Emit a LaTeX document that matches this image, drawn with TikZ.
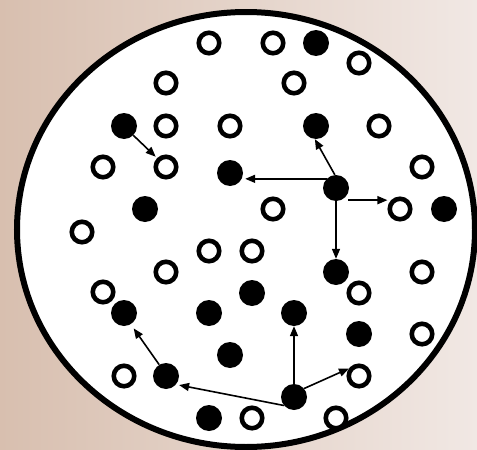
\documentclass[tikz,border=0pt]{standalone}
\usetikzlibrary{arrows.meta}
\definecolor{bgL}{RGB}{216,191,175}
\definecolor{bgR}{RGB}{241,232,228}
\begin{document}
\begin{tikzpicture}[x=1pt,y=-1pt,
  opendot/.style={circle,draw=black,line width=4.6pt,fill=white,minimum size=20.5pt,inner sep=0pt},
  fulldot/.style={circle,fill=black,minimum size=26pt,inner sep=0pt},
  flow/.style={line width=1.6pt,-{Triangle[length=10pt,width=8pt]}}]
\shade[left color=bgL,right color=bgR] (0,0) rectangle (477,450);
\useasboundingbox (0,0) rectangle (477,450);
\draw[line width=6pt,fill=white] (246,229.5) ellipse [x radius=229pt, y radius=217.5pt];
% open dots
\foreach \x/\y [count=\i] in {209/43, 273/43, 359/63, 166/83, 294/83, 166/126, 230/126, 379/126,
  103/167, 422/167, 273/209, 82/232, 209/251, 252/251, 166/272, 422/272, 103/292,
  359/293, 422/334, 124/376, 252/418, 336/418}
  \node[opendot] (o\i) at (\x,\y) {};
\node[opendot] (oA) at (166,167) {};
\node[opendot] (oB) at (400,209) {};
\node[opendot] (oC) at (359,376) {};
% filled dots
\foreach \x/\y [count=\i] in {316/43, 145/209, 444/209, 252/293, 209/313, 359/334, 230/355, 209/418}
  \node[fulldot] (f\i) at (\x,\y) {};
\node[fulldot] (fA) at (124,126) {};
\node[fulldot] (fB) at (316,126) {};
\node[fulldot] (fC) at (230,173) {};
\node[fulldot] (fD) at (336,188) {};
\node[fulldot] (fE) at (336,272) {};
\node[fulldot] (fF) at (124,313) {};
\node[fulldot] (fG) at (294,313) {};
\node[fulldot] (fH) at (166,376) {};
\node[fulldot] (fI) at (294,397) {};
% arrows
\draw[flow,shorten >=2pt] (fA.-45) -- (oA.135);
\draw[flow] (fD.95) -- (fB.-95);
\draw[flow,shorten >=2pt] (fD.136) -- (fD.136 -| fC.east);
\draw[flow,shorten <=7pt] (fD.-67) -- (fD.-67 -| oB.west);
\draw[flow] (fD.south) -- (fE.north);
\draw[flow] (fI.north) -- (fG.south);
\draw[flow] (fI.40) -- (oC.143);
\draw[flow,shorten >=3pt] (fI.220) -- (fH.-40);
\draw[flow,shorten >=5pt] (fH.121) -- (fF.-59);
\end{tikzpicture}
\end{document}
